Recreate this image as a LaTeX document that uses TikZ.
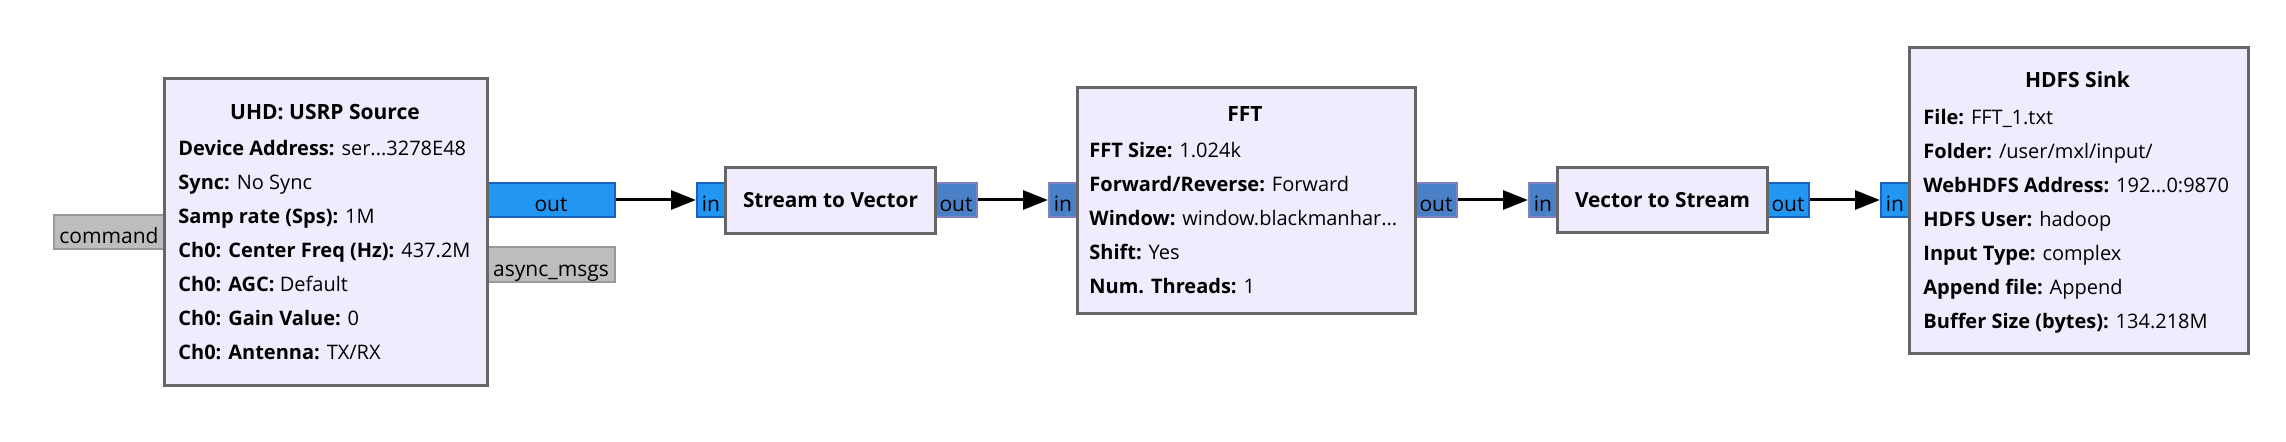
\documentclass[tikz,border=0pt]{standalone}
\usepackage{fontspec}
\setmainfont{Open Sans}
\usetikzlibrary{arrows.meta,positioning}

\definecolor{blockfill}{HTML}{F0ECFE}
\definecolor{blockedge}{HTML}{666666}
\definecolor{cplxport}{HTML}{2196F3}
\definecolor{cplxedge}{HTML}{1A62C0}
\definecolor{vecport}{HTML}{4A80C6}
\definecolor{vecedge}{HTML}{7E82C2}
\definecolor{msgport}{HTML}{BDBDBD}
\definecolor{msgedge}{HTML}{999999}

\newcommand{\prm}[2]{\textbf{#1:} #2}

\tikzset{
  block/.style={draw=blockedge, line width=1.5pt, fill=blockfill, inner sep=0pt,
    anchor=north west, font=\fontsize{10.4pt}{12pt}\selectfont\bfseries},
  port/.style={line width=1pt, inner sep=0pt, minimum height=17pt, text height=12pt,
    text depth=0pt, anchor=north west, font=\fontsize{10.5pt}{12pt}\selectfont},
  cplx/.style={port, draw=cplxedge, fill=cplxport},
  vec/.style={port, draw=vecedge, fill=vecport},
  msg/.style={port, draw=msgedge, fill=msgport},
  params/.style={inner sep=0pt, anchor=base west, font=\fontsize{10pt}{17pt}\selectfont},
  title/.style={inner sep=0pt, anchor=base, font=\fontsize{10.5pt}{12pt}\selectfont\bfseries},
  flow/.style={line width=1.5pt, -{Triangle[length=12.5pt,width=9.5pt]}}
}

\begin{document}
\begin{tikzpicture}[x=0.5pt, y=-0.5pt]
    \useasboundingbox (0,0) rectangle (2286,442);

    % Ports (drawn first, the blocks sit on top of them)
    \node[msg, minimum width=55pt] (usrp-cmd) at (53,214) {command};
    \node[cplx, minimum width=64pt] (usrp-out) at (486,182) {out};
    \node[msg, minimum width=64pt, minimum height=17.5pt] (usrp-msg) at (486,246) {async\_msgs};
    \node[cplx, minimum width=14pt] (s2v-in) at (696,182) {in};
    \node[vec, minimum width=21pt] (s2v-out) at (934,182) {out};
    \node[vec, minimum width=14pt] (fft-in) at (1048,182) {in};
    \node[vec, minimum width=21pt] (fft-out) at (1414,182) {out};
    \node[vec, minimum width=14pt] (v2s-in) at (1528,182) {in};
    \node[cplx, minimum width=21pt] (v2s-out) at (1766,182) {out};
    \node[cplx, minimum width=14pt] (hdfs-in) at (1880,182) {in};

    % USRP source
    \node[block, minimum width=161.5pt, minimum height=153.5pt] (usrp) at (163,77) {};
    \node[title] (usrp-title) at (325,119.5) {UHD: USRP Source};
    \node[params] (usrp-params) at (178,156) {\begin{tabular}[t]{@{}l@{}}
        \prm{Device Address}{ser...3278E48}\\
        \prm{Sync}{No Sync}\\
        \prm{Samp rate (Sps)}{1M}\\
        \prm{Ch0: Center Freq (Hz)}{437.2M}\\
        \prm{Ch0: AGC}{Default}\\
        \prm{Ch0: Gain Value}{0}\\
        \prm{Ch0: Antenna}{TX/RX}
    \end{tabular}};

    % Stream to vector
    \node[block, minimum width=105pt, minimum height=33pt] (s2v) at (724,166) {Stream to Vector};

    % FFT
    \node[block, minimum width=169pt, minimum height=113pt] (fft) at (1076,86) {};
    \node[title] (fft-title) at (1245,122) {FFT};
    \node[params] (fft-params) at (1089,158) {\begin{tabular}[t]{@{}l@{}}
        \prm{FFT Size}{1.024k}\\
        \prm{Forward/Reverse}{Forward}\\
        \prm{Window}{window.blackmanhar...}\\
        \prm{Shift}{Yes}\\
        \prm{Num. Threads}{1}
    \end{tabular}};

    % Vector to stream
    \node[block, minimum width=105pt, minimum height=32.5pt] (v2s) at (1556,166) {Vector to Stream};

    % HDFS sink
    \node[block, minimum width=169.5pt, minimum height=153pt] (hdfs) at (1908,46) {};
    \node[title] (hdfs-title) at (2077.5,88) {HDFS Sink};
    \node[params] (hdfs-params) at (1923,125) {\begin{tabular}[t]{@{}l@{}}
        \prm{File}{FFT\_1.txt}\\
        \prm{Folder}{/user/mxl/input/}\\
        \prm{WebHDFS Address}{192...0:9870}\\
        \prm{HDFS User}{hadoop}\\
        \prm{Input Type}{complex}\\
        \prm{Append file}{Append}\\
        \prm{Buffer Size (bytes)}{134.218M}
    \end{tabular}};

    % Connections
    \draw[flow] (usrp-out) -- (s2v-in);
    \draw[flow] (s2v-out) -- (fft-in);
    \draw[flow] (fft-out) -- (v2s-in);
    \draw[flow] (v2s-out) -- (hdfs-in);
\end{tikzpicture}
\end{document}
